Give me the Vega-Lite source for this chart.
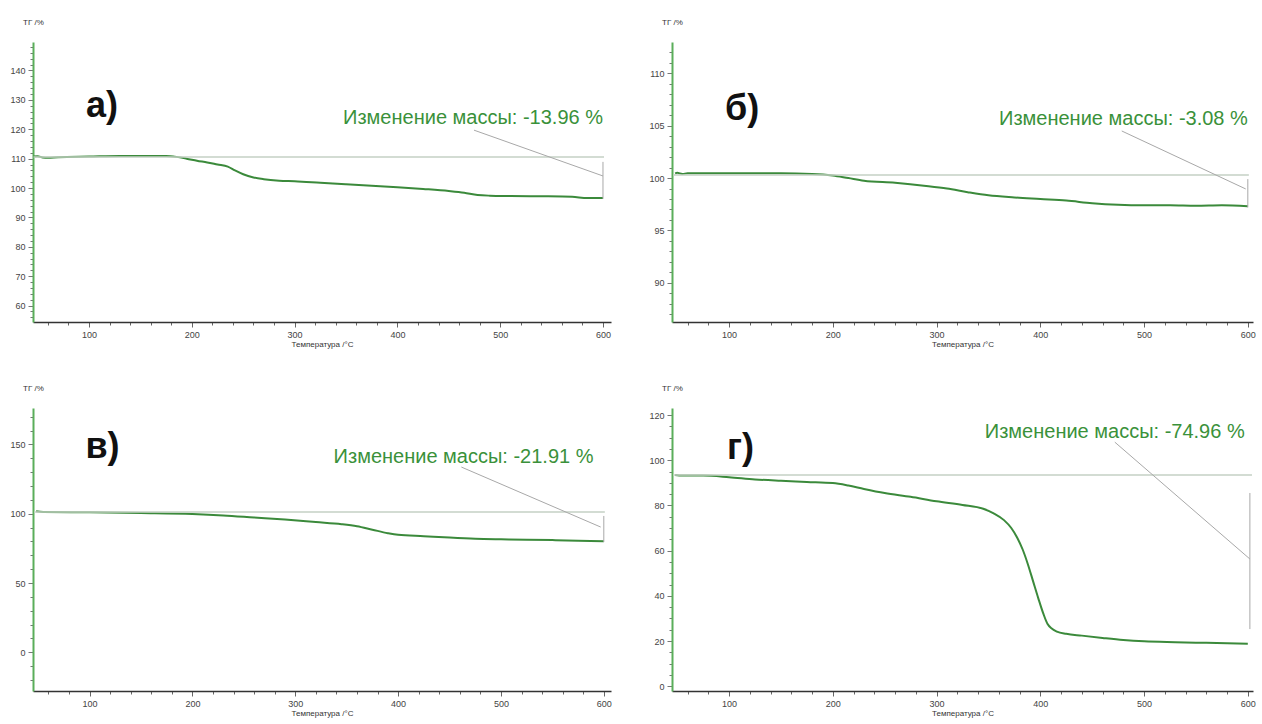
{
  "$schema": "https://vega.github.io/schema/vega-lite/v6.json",
  "padding": {"left": 9, "top": 18, "right": 5, "bottom": 5},
  "config": {"view": {"stroke": null}, "font": "Liberation Sans"},
  "datasets": {
    "curves": [
      {"panel":"a","T":46,"m":110.7},{"panel":"a","T":50,"m":110.8},{"panel":"a","T":55,"m":110.4},{"panel":"a","T":60,"m":110.3},{"panel":"a","T":70,"m":110.5},{"panel":"a","T":100,"m":110.7},{"panel":"a","T":130,"m":110.9},{"panel":"a","T":160,"m":110.9},{"panel":"a","T":175,"m":110.9},{"panel":"a","T":185,"m":110.6},{"panel":"a","T":195,"m":110.0},{"panel":"a","T":205,"m":109.3},{"panel":"a","T":215,"m":108.7},{"panel":"a","T":225,"m":108.0},{"panel":"a","T":235,"m":107.3},{"panel":"a","T":242,"m":106.0},{"panel":"a","T":250,"m":104.7},{"panel":"a","T":260,"m":103.6},{"panel":"a","T":270,"m":103.0},{"panel":"a","T":285,"m":102.5},{"panel":"a","T":300,"m":102.3},{"panel":"a","T":325,"m":101.8},{"panel":"a","T":350,"m":101.3},{"panel":"a","T":375,"m":100.8},{"panel":"a","T":400,"m":100.3},{"panel":"a","T":425,"m":99.7},{"panel":"a","T":450,"m":99.0},{"panel":"a","T":465,"m":98.4},{"panel":"a","T":478,"m":97.6},{"panel":"a","T":490,"m":97.4},{"panel":"a","T":510,"m":97.3},{"panel":"a","T":540,"m":97.2},{"panel":"a","T":570,"m":97.0},{"panel":"a","T":585,"m":96.6},{"panel":"a","T":600,"m":96.6},
      {"panel":"b","T":48,"m":100.45},{"panel":"b","T":50,"m":100.5},{"panel":"b","T":55,"m":100.4},{"panel":"b","T":60,"m":100.45},{"panel":"b","T":100,"m":100.45},{"panel":"b","T":150,"m":100.45},{"panel":"b","T":180,"m":100.4},{"panel":"b","T":200,"m":100.25},{"panel":"b","T":215,"m":100.0},{"panel":"b","T":230,"m":99.75},{"panel":"b","T":260,"m":99.55},{"panel":"b","T":290,"m":99.25},{"panel":"b","T":310,"m":99.0},{"panel":"b","T":330,"m":98.65},{"panel":"b","T":350,"m":98.35},{"panel":"b","T":375,"m":98.15},{"panel":"b","T":400,"m":98.0},{"panel":"b","T":425,"m":97.85},{"panel":"b","T":450,"m":97.6},{"panel":"b","T":475,"m":97.45},{"panel":"b","T":500,"m":97.4},{"panel":"b","T":525,"m":97.4},{"panel":"b","T":550,"m":97.35},{"panel":"b","T":575,"m":97.4},{"panel":"b","T":600,"m":97.3},
      {"panel":"c","T":48,"m":101.8},{"panel":"c","T":55,"m":101.3},{"panel":"c","T":100,"m":101.0},{"panel":"c","T":150,"m":100.5},{"panel":"c","T":200,"m":99.8},{"panel":"c","T":230,"m":98.8},{"panel":"c","T":260,"m":97.3},{"panel":"c","T":290,"m":95.8},{"panel":"c","T":320,"m":94.0},{"panel":"c","T":345,"m":92.5},{"panel":"c","T":360,"m":91.0},{"panel":"c","T":375,"m":88.5},{"panel":"c","T":390,"m":86.0},{"panel":"c","T":400,"m":84.8},{"panel":"c","T":425,"m":83.8},{"panel":"c","T":450,"m":82.8},{"panel":"c","T":475,"m":82.0},{"panel":"c","T":500,"m":81.6},{"panel":"c","T":525,"m":81.3},{"panel":"c","T":550,"m":81.0},{"panel":"c","T":575,"m":80.6},{"panel":"c","T":600,"m":80.2},
      {"panel":"d","T":48,"m":93.5},{"panel":"d","T":55,"m":93.2},{"panel":"d","T":75,"m":93.2},{"panel":"d","T":100,"m":92.5},{"panel":"d","T":125,"m":91.5},{"panel":"d","T":150,"m":90.9},{"panel":"d","T":175,"m":90.4},{"panel":"d","T":200,"m":89.9},{"panel":"d","T":215,"m":88.8},{"panel":"d","T":230,"m":87.3},{"panel":"d","T":250,"m":85.5},{"panel":"d","T":275,"m":83.8},{"panel":"d","T":300,"m":81.8},{"panel":"d","T":325,"m":80.2},{"panel":"d","T":345,"m":78.5},{"panel":"d","T":355,"m":76.5},{"panel":"d","T":365,"m":73.5},{"panel":"d","T":372,"m":70.0},{"panel":"d","T":378,"m":65.5},{"panel":"d","T":383,"m":60.5},{"panel":"d","T":388,"m":54.0},{"panel":"d","T":393,"m":46.5},{"panel":"d","T":398,"m":39.0},{"panel":"d","T":403,"m":32.0},{"panel":"d","T":407,"m":27.5},{"panel":"d","T":411,"m":25.5},{"panel":"d","T":416,"m":24.2},{"panel":"d","T":425,"m":23.2},{"panel":"d","T":440,"m":22.4},{"panel":"d","T":460,"m":21.4},{"panel":"d","T":480,"m":20.5},{"panel":"d","T":500,"m":19.9},{"panel":"d","T":530,"m":19.5},{"panel":"d","T":560,"m":19.2},{"panel":"d","T":600,"m":18.8}
    ],
    "notes": [
      {"panel":"a","kind":"label","T":97,"m":127.9,"text":"а)"},
      {"panel":"a","kind":"note","T":600,"m":124,"text":"Изменение массы: -13.96 %"},
      {"panel":"b","kind":"label","T":96,"m":106.6,"text":"б)"},
      {"panel":"b","kind":"note","T":600,"m":105.65,"text":"Изменение массы: -3.08 %"},
      {"panel":"c","kind":"label","T":96,"m":148.1,"text":"в)"},
      {"panel":"c","kind":"note","T":590,"m":140.9,"text":"Изменение массы: -21.91 %"},
      {"panel":"d","kind":"label","T":98,"m":105.4,"text":"г)"},
      {"panel":"d","kind":"note","T":597,"m":112.5,"text":"Изменение массы: -74.96 %"}
    ],
    "rules": [
      {"panel":"a","kind":"ref","T":46,"m":110.6,"T2":601,"m2":110.6},
      {"panel":"a","kind":"vert","T":600,"m":108.9,"T2":600,"m2":96.3},
      {"panel":"a","kind":"lead","T":474.5,"m":119.7,"T2":600,"m2":104.1},
      {"panel":"b","kind":"ref","T":46,"m":100.3,"T2":601,"m2":100.3},
      {"panel":"b","kind":"vert","T":600,"m":99.9,"T2":600,"m2":97.2},
      {"panel":"b","kind":"lead","T":478.5,"m":104.5,"T2":598,"m2":98.96},
      {"panel":"c","kind":"ref","T":46,"m":101.2,"T2":601,"m2":101.2},
      {"panel":"c","kind":"vert","T":600,"m":98.4,"T2":600,"m2":79.6},
      {"panel":"c","kind":"lead","T":461.5,"m":133.7,"T2":597,"m2":90.4},
      {"panel":"d","kind":"ref","T":46,"m":93.5,"T2":604,"m2":93.5},
      {"panel":"d","kind":"vert","T":602,"m":85.5,"T2":602,"m2":25.3},
      {"panel":"d","kind":"lead","T":471.8,"m":108,"T2":602,"m2":56.3}
    ]
  },
  "columns": 2,
  "align": "all",
  "bounds": "flush",
  "spacing": {"row": 83, "column": 58},
  "concat": [
    {
      "width": 578, "height": 280,
      "layer": [
        {"data":{"name":"curves"},"transform":[{"filter":"datum.panel === 'a'"}],
         "mark":{"type":"line","color":"#3b8a3b","strokeWidth":2,"interpolate":"monotone"},
         "encoding":{
           "x":{"field":"T","type":"quantitative","scale":{"domain":[45.5,607.8],"nice":false,"zero":false},
                "axis":{"title":"Температура /°C","format":"d","tickCount":200,"values":[60,80,100,120,140,160,180,200,220,240,260,280,300,320,340,360,380,400,420,440,460,480,500,520,540,560,580,600],"labelExpr":"datum.value % 100 === 0 ? datum.label : ''","tickSize":{"condition":{"test":"datum.value % 100 === 0","value":5},"value":3},"labelOverlap":false,"labelFontSize":9,"labelColor":"#444","titleFontSize":8,"titleColor":"#333","titleFontWeight":"normal","domainColor":"#333","domainWidth":1.5,"tickColor":"#666","grid":false,"labelPadding":3,"titlePadding":1}},
           "y":{"field":"m","type":"quantitative","scale":{"domain":[54.4,149.7],"nice":false,"zero":false},
                "axis":{"title":"ТГ /%","format":"d","tickCount":200,"titleAngle":0,"titleX":0,"titleY":-20,"titleAlign":"center","titleBaseline":"middle","titleFontSize":8,"titleColor":"#333","titleFontWeight":"normal","values":[56,58,60,62,64,66,68,70,72,74,76,78,80,82,84,86,88,90,92,94,96,98,100,102,104,106,108,110,112,114,116,118,120,122,124,126,128,130,132,134,136,138,140,142,144,146,148],"labelExpr":"datum.value % 10 === 0 ? datum.label : ''","tickSize":{"condition":{"test":"datum.value % 10 === 0","value":5},"value":3},"labelOverlap":false,"labelFontSize":9,"labelColor":"#444","domainColor":"#5aae5a","domainWidth":2,"tickColor":"#777","grid":false,"labelPadding":3}}
         }},
        {"data":{"name":"rules"},"transform":[{"filter":"datum.panel === 'a' && datum.kind === 'ref'"}],
         "mark":{"type":"rule","color":"#c4d0c4","strokeWidth":1.5},
         "encoding":{"x":{"field":"T","type":"quantitative"},"y":{"field":"m","type":"quantitative"},"x2":{"field":"T2"},"y2":{"field":"m2"}}},
        {"data":{"name":"rules"},"transform":[{"filter":"datum.panel === 'a' && datum.kind !== 'ref'"}],
         "mark":{"type":"rule","color":"#a8a8a8","strokeWidth":1},
         "encoding":{"x":{"field":"T","type":"quantitative"},"y":{"field":"m","type":"quantitative"},"x2":{"field":"T2"},"y2":{"field":"m2"}}},
        {"data":{"name":"notes"},"transform":[{"filter":"datum.panel === 'a' && datum.kind === 'note'"}],
         "mark":{"type":"text","align":"right","baseline":"middle","fontSize":20,"color":"#3a913a"},
         "encoding":{"x":{"field":"T","type":"quantitative"},"y":{"field":"m","type":"quantitative"},"text":{"field":"text"}}},
        {"data":{"name":"notes"},"transform":[{"filter":"datum.panel === 'a' && datum.kind === 'label'"}],
         "mark":{"type":"text","align":"left","baseline":"middle","fontSize":36,"fontWeight":"bold","color":"#111"},
         "encoding":{"x":{"field":"T","type":"quantitative"},"y":{"field":"m","type":"quantitative"},"text":{"field":"text"}}}
      ]
    },
    {
      "width": 581, "height": 280,
      "layer": [
        {"data":{"name":"curves"},"transform":[{"filter":"datum.panel === 'b'"}],
         "mark":{"type":"line","color":"#3b8a3b","strokeWidth":2,"interpolate":"monotone"},
         "encoding":{
           "x":{"field":"T","type":"quantitative","scale":{"domain":[45,605],"nice":false,"zero":false},
                "axis":{"title":"Температура /°C","format":"d","tickCount":200,"values":[60,80,100,120,140,160,180,200,220,240,260,280,300,320,340,360,380,400,420,440,460,480,500,520,540,560,580,600],"labelExpr":"datum.value % 100 === 0 ? datum.label : ''","tickSize":{"condition":{"test":"datum.value % 100 === 0","value":5},"value":3},"labelOverlap":false,"labelFontSize":9,"labelColor":"#444","titleFontSize":8,"titleColor":"#333","titleFontWeight":"normal","domainColor":"#333","domainWidth":1.5,"tickColor":"#666","grid":false,"labelPadding":3,"titlePadding":1}},
           "y":{"field":"m","type":"quantitative","scale":{"domain":[86.25,113.0],"nice":false,"zero":false},
                "axis":{"title":"ТГ /%","format":"d","tickCount":200,"titleAngle":0,"titleX":0,"titleY":-20,"titleAlign":"center","titleBaseline":"middle","titleFontSize":8,"titleColor":"#333","titleFontWeight":"normal","values":[87,88,89,90,91,92,93,94,95,96,97,98,99,100,101,102,103,104,105,106,107,108,109,110,111,112],"labelExpr":"datum.value % 5 === 0 ? datum.label : ''","tickSize":{"condition":{"test":"datum.value % 5 === 0","value":5},"value":3},"labelOverlap":false,"labelFontSize":9,"labelColor":"#444","domainColor":"#5aae5a","domainWidth":2,"tickColor":"#777","grid":false,"labelPadding":3}}
         }},
        {"data":{"name":"rules"},"transform":[{"filter":"datum.panel === 'b' && datum.kind === 'ref'"}],
         "mark":{"type":"rule","color":"#c4d0c4","strokeWidth":1.5},
         "encoding":{"x":{"field":"T","type":"quantitative"},"y":{"field":"m","type":"quantitative"},"x2":{"field":"T2"},"y2":{"field":"m2"}}},
        {"data":{"name":"rules"},"transform":[{"filter":"datum.panel === 'b' && datum.kind !== 'ref'"}],
         "mark":{"type":"rule","color":"#a8a8a8","strokeWidth":1},
         "encoding":{"x":{"field":"T","type":"quantitative"},"y":{"field":"m","type":"quantitative"},"x2":{"field":"T2"},"y2":{"field":"m2"}}},
        {"data":{"name":"notes"},"transform":[{"filter":"datum.panel === 'b' && datum.kind === 'note'"}],
         "mark":{"type":"text","align":"right","baseline":"middle","fontSize":20,"color":"#3a913a"},
         "encoding":{"x":{"field":"T","type":"quantitative"},"y":{"field":"m","type":"quantitative"},"text":{"field":"text"}}},
        {"data":{"name":"notes"},"transform":[{"filter":"datum.panel === 'b' && datum.kind === 'label'"}],
         "mark":{"type":"text","align":"left","baseline":"middle","fontSize":36,"fontWeight":"bold","color":"#111"},
         "encoding":{"x":{"field":"T","type":"quantitative"},"y":{"field":"m","type":"quantitative"},"text":{"field":"text"}}}
      ]
    },
    {
      "width": 578, "height": 283,
      "layer": [
        {"data":{"name":"curves"},"transform":[{"filter":"datum.panel === 'c'"}],
         "mark":{"type":"line","color":"#3b8a3b","strokeWidth":2,"interpolate":"monotone"},
         "encoding":{
           "x":{"field":"T","type":"quantitative","scale":{"domain":[45,607],"nice":false,"zero":false},
                "axis":{"title":"Температура /°C","format":"d","tickCount":200,"values":[60,80,100,120,140,160,180,200,220,240,260,280,300,320,340,360,380,400,420,440,460,480,500,520,540,560,580,600],"labelExpr":"datum.value % 100 === 0 ? datum.label : ''","tickSize":{"condition":{"test":"datum.value % 100 === 0","value":5},"value":3},"labelOverlap":false,"labelFontSize":9,"labelColor":"#444","titleFontSize":8,"titleColor":"#333","titleFontWeight":"normal","domainColor":"#333","domainWidth":1.5,"tickColor":"#666","grid":false,"labelPadding":3,"titlePadding":1}},
           "y":{"field":"m","type":"quantitative","scale":{"domain":[-27.9,176.3],"nice":false,"zero":false},
                "axis":{"title":"ТГ /%","format":"d","tickCount":200,"titleAngle":0,"titleX":0,"titleY":-20,"titleAlign":"center","titleBaseline":"middle","titleFontSize":8,"titleColor":"#333","titleFontWeight":"normal","values":[-20,-10,0,10,20,30,40,50,60,70,80,90,100,110,120,130,140,150,160,170],"labelExpr":"datum.value % 50 === 0 ? datum.label : ''","tickSize":{"condition":{"test":"datum.value % 50 === 0","value":5},"value":3},"labelOverlap":false,"labelFontSize":9,"labelColor":"#444","domainColor":"#5aae5a","domainWidth":2,"tickColor":"#777","grid":false,"labelPadding":3}}
         }},
        {"data":{"name":"rules"},"transform":[{"filter":"datum.panel === 'c' && datum.kind === 'ref'"}],
         "mark":{"type":"rule","color":"#c4d0c4","strokeWidth":1.5},
         "encoding":{"x":{"field":"T","type":"quantitative"},"y":{"field":"m","type":"quantitative"},"x2":{"field":"T2"},"y2":{"field":"m2"}}},
        {"data":{"name":"rules"},"transform":[{"filter":"datum.panel === 'c' && datum.kind !== 'ref'"}],
         "mark":{"type":"rule","color":"#a8a8a8","strokeWidth":1},
         "encoding":{"x":{"field":"T","type":"quantitative"},"y":{"field":"m","type":"quantitative"},"x2":{"field":"T2"},"y2":{"field":"m2"}}},
        {"data":{"name":"notes"},"transform":[{"filter":"datum.panel === 'c' && datum.kind === 'note'"}],
         "mark":{"type":"text","align":"right","baseline":"middle","fontSize":20,"color":"#3a913a"},
         "encoding":{"x":{"field":"T","type":"quantitative"},"y":{"field":"m","type":"quantitative"},"text":{"field":"text"}}},
        {"data":{"name":"notes"},"transform":[{"filter":"datum.panel === 'c' && datum.kind === 'label'"}],
         "mark":{"type":"text","align":"left","baseline":"middle","fontSize":36,"fontWeight":"bold","color":"#111"},
         "encoding":{"x":{"field":"T","type":"quantitative"},"y":{"field":"m","type":"quantitative"},"text":{"field":"text"}}}
      ]
    },
    {
      "width": 581, "height": 283,
      "layer": [
        {"data":{"name":"curves"},"transform":[{"filter":"datum.panel === 'd'"}],
         "mark":{"type":"line","color":"#3b8a3b","strokeWidth":2,"interpolate":"monotone"},
         "encoding":{
           "x":{"field":"T","type":"quantitative","scale":{"domain":[45,605],"nice":false,"zero":false},
                "axis":{"title":"Температура /°C","format":"d","tickCount":200,"values":[60,80,100,120,140,160,180,200,220,240,260,280,300,320,340,360,380,400,420,440,460,480,500,520,540,560,580,600],"labelExpr":"datum.value % 100 === 0 ? datum.label : ''","tickSize":{"condition":{"test":"datum.value % 100 === 0","value":5},"value":3},"labelOverlap":false,"labelFontSize":9,"labelColor":"#444","titleFontSize":8,"titleColor":"#333","titleFontWeight":"normal","domainColor":"#333","domainWidth":1.5,"tickColor":"#666","grid":false,"labelPadding":3,"titlePadding":1}},
           "y":{"field":"m","type":"quantitative","scale":{"domain":[-2.1,123.1],"nice":false,"zero":false},
                "axis":{"title":"ТГ /%","format":"d","tickCount":200,"titleAngle":0,"titleX":0,"titleY":-20,"titleAlign":"center","titleBaseline":"middle","titleFontSize":8,"titleColor":"#333","titleFontWeight":"normal","values":[0,5,10,15,20,25,30,35,40,45,50,55,60,65,70,75,80,85,90,95,100,105,110,115,120],"labelExpr":"datum.value % 20 === 0 ? datum.label : ''","tickSize":{"condition":{"test":"datum.value % 20 === 0","value":5},"value":3},"labelOverlap":false,"labelFontSize":9,"labelColor":"#444","domainColor":"#5aae5a","domainWidth":2,"tickColor":"#777","grid":false,"labelPadding":3}}
         }},
        {"data":{"name":"rules"},"transform":[{"filter":"datum.panel === 'd' && datum.kind === 'ref'"}],
         "mark":{"type":"rule","color":"#c4d0c4","strokeWidth":1.5},
         "encoding":{"x":{"field":"T","type":"quantitative"},"y":{"field":"m","type":"quantitative"},"x2":{"field":"T2"},"y2":{"field":"m2"}}},
        {"data":{"name":"rules"},"transform":[{"filter":"datum.panel === 'd' && datum.kind !== 'ref'"}],
         "mark":{"type":"rule","color":"#a8a8a8","strokeWidth":1},
         "encoding":{"x":{"field":"T","type":"quantitative"},"y":{"field":"m","type":"quantitative"},"x2":{"field":"T2"},"y2":{"field":"m2"}}},
        {"data":{"name":"notes"},"transform":[{"filter":"datum.panel === 'd' && datum.kind === 'note'"}],
         "mark":{"type":"text","align":"right","baseline":"middle","fontSize":20,"color":"#3a913a"},
         "encoding":{"x":{"field":"T","type":"quantitative"},"y":{"field":"m","type":"quantitative"},"text":{"field":"text"}}},
        {"data":{"name":"notes"},"transform":[{"filter":"datum.panel === 'd' && datum.kind === 'label'"}],
         "mark":{"type":"text","align":"left","baseline":"middle","fontSize":36,"fontWeight":"bold","color":"#111"},
         "encoding":{"x":{"field":"T","type":"quantitative"},"y":{"field":"m","type":"quantitative"},"text":{"field":"text"}}}
      ]
    }
  ]
}
